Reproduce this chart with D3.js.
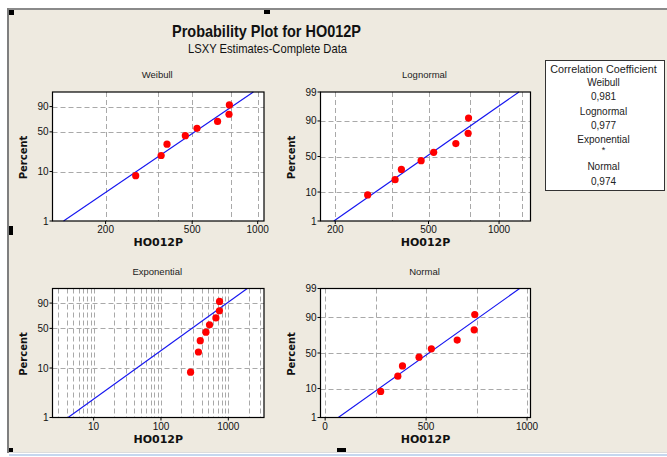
<!DOCTYPE html>
<html>
<head>
<meta charset="utf-8">
<script src="https://cdn.jsdelivr.net/npm/d3@7"></script>
<style>
  body { margin: 0; background: #fff; }
  svg { display: block; font-family: "Liberation Sans", Arial, sans-serif; }
  .grid { stroke: #a9a9a9; stroke-width: 1; stroke-dasharray: 5,3; fill: none; }
  .tick { font-size: 10px; fill: #111; }
  .bold { font-family: "DejaVu Sans", Verdana, sans-serif; font-weight: bold; fill: #111; }
</style>
</head>
<body>
<script>
// sample values (HO012P) and median-rank percents
var values = [275, 360, 383, 465, 526, 654, 738, 741];
var percents = [8.3, 20.2, 32.1, 44.0, 56.0, 67.9, 79.8, 91.7];

// LSXY fitted parameters
var weibullFit = { shape: 3.05, scale: 579 };
var lognormalFit = { loc: 6.194, scale: 0.391 };
var exponentialFit = { mean: 415 };
var normalFit = { mean: 514, sd: 193 };

var corrNames = ["Weibull", "Lognormal", "Exponential", "Normal"];
var corrValues = ["0,981", "0,977", "*", "0,974"];

var W = 667, H = 457;

// inverse normal cdf (Acklam)
function qnorm(p) {
  var a = [-3.969683028665376e+01, 2.209460984245205e+02, -2.759285104469687e+02, 1.383577518672690e+02, -3.066479806614716e+01, 2.506628277459239e+00];
  var b = [-5.447609879822406e+01, 1.615858368580409e+02, -1.556989798598866e+02, 6.680131188771972e+01, -1.328068155288572e+01];
  var c = [-7.784894002430293e-03, -3.223964580411365e-01, -2.400758277161838e+00, -2.549732539343734e+00, 4.374664141464968e+00, 2.938163982698783e+00];
  var d = [7.784695709041462e-03, 3.224671290700398e-01, 2.445134137142996e+00, 3.754408661907416e+00];
  var pl = 0.02425, q, r;
  if (p < pl) {
    q = Math.sqrt(-2 * Math.log(p));
    return (((((c[0]*q+c[1])*q+c[2])*q+c[3])*q+c[4])*q+c[5]) / ((((d[0]*q+d[1])*q+d[2])*q+d[3])*q+1);
  } else if (p <= 1 - pl) {
    q = p - 0.5; r = q * q;
    return (((((a[0]*r+a[1])*r+a[2])*r+a[3])*r+a[4])*r+a[5])*q / (((((b[0]*r+b[1])*r+b[2])*r+b[3])*r+b[4])*r+1);
  }
  q = Math.sqrt(-2 * Math.log(1 - p));
  return -(((((c[0]*q+c[1])*q+c[2])*q+c[3])*q+c[4])*q+c[5]) / ((((d[0]*q+d[1])*q+d[2])*q+d[3])*q+1);
}
function weibT(pct) { return Math.log(-Math.log(1 - pct / 100)); }
function normT(pct) { return qnorm(pct / 100); }

var expGrid = [];
[1, 10, 100, 1000].forEach(function(dec) {
  for (var k = 1; k <= 9; k++) { if (k * dec >= 3 && k * dec <= 3000) expGrid.push(k * dec); }
});

var panels = [
  { title: "Weibull", x0: 52.5, y0: 92, w: 211.5, h: 129, tr: weibT,
    x: d3.scaleLog().domain([114, 1069]), xTicks: [200, 500, 1000], xGrid: [200, 350, 500, 750, 1000],
    yTicks: [1, 10, 50, 90],
    q: function(p) { return weibullFit.scale * Math.pow(-Math.log(1 - p / 100), 1 / weibullFit.shape); } },
  { title: "Lognormal", x0: 320.5, y0: 92, w: 210, h: 129, tr: normT,
    x: d3.scaleLog().domain([173, 1362]), xTicks: [200, 500, 1000], xGrid: [200, 350, 500, 750, 1000, 1250],
    yTicks: [1, 10, 50, 90, 99],
    q: function(p) { return Math.exp(lognormalFit.loc + lognormalFit.scale * qnorm(p / 100)); } },
  { title: "Exponential", x0: 52.5, y0: 288.5, w: 211.5, h: 129, tr: weibT,
    x: d3.scaleLog().domain([2.45, 3388]), xTicks: [10, 100, 1000], xGrid: expGrid,
    yTicks: [1, 10, 50, 90],
    q: function(p) { return -exponentialFit.mean * Math.log(1 - p / 100); } },
  { title: "Normal", x0: 320.5, y0: 288.5, w: 210, h: 129, tr: normT,
    x: d3.scaleLinear().domain([-23, 1017]), xTicks: [0, 500, 1000], xGrid: [0, 250, 500, 750, 1000],
    yTicks: [1, 10, 50, 90, 99],
    q: function(p) { return normalFit.mean + normalFit.sd * qnorm(p / 100); } }
];
var yGrid = [10, 50, 90];

var svg = d3.select("body").append("svg").attr("width", W).attr("height", H);

// window frame
svg.append("rect").attr("x", 9).attr("y", 10).attr("width", W).attr("height", 442).attr("fill", "#eeeae0");
svg.append("line").attr("x1", 8).attr("x2", W).attr("y1", 9).attr("y2", 9).attr("stroke", "#8a8a8a").attr("stroke-width", 2);
svg.append("line").attr("x1", 8).attr("x2", 8).attr("y1", 8).attr("y2", 453).attr("stroke", "#7f7f7f").attr("stroke-width", 2);
svg.append("line").attr("x1", 9).attr("x2", W).attr("y1", 452.5).attr("y2", 452.5).attr("stroke", "#dcdcdc");
svg.append("rect").attr("x", 9).attr("y", 454).attr("width", W).attr("height", 2).attr("fill", "#c5d7ee");

// titles
svg.append("text").attr("x", 266.5).attr("y", 37).attr("text-anchor", "middle")
  .attr("font-size", 17).attr("font-weight", "bold").attr("fill", "#111")
  .attr("textLength", 189).attr("lengthAdjust", "spacingAndGlyphs")
  .text("Probability Plot for HO012P");
svg.append("text").attr("x", 267.5).attr("y", 53).attr("text-anchor", "middle")
  .attr("font-size", 13.5).attr("fill", "#111")
  .attr("textLength", 159).attr("lengthAdjust", "spacingAndGlyphs")
  .text("LSXY Estimates-Complete Data");

panels.forEach(function(pn) {
  var g = svg.append("g");
  var xs = pn.x.copy().range([pn.x0, pn.x0 + pn.w]);
  var ys = d3.scaleLinear().domain([pn.tr(1), pn.tr(99)]).range([pn.y0 + pn.h, pn.y0]);

  g.append("rect").attr("x", pn.x0).attr("y", pn.y0).attr("width", pn.w).attr("height", pn.h).attr("fill", "#fff");

  g.selectAll(".gx").data(pn.xGrid).enter().append("line").attr("class", "grid")
    .attr("x1", function(d) { return Math.round(xs(d)) + 0.5; })
    .attr("x2", function(d) { return Math.round(xs(d)) + 0.5; })
    .attr("y1", pn.y0).attr("y2", pn.y0 + pn.h);
  g.selectAll(".gy").data(yGrid).enter().append("line").attr("class", "grid")
    .attr("x1", pn.x0).attr("x2", pn.x0 + pn.w)
    .attr("y1", function(d) { return Math.round(ys(pn.tr(d))) + 0.5; })
    .attr("y2", function(d) { return Math.round(ys(pn.tr(d))) + 0.5; });

  // fitted line from 1% to 99%
  g.append("line")
    .attr("x1", xs(pn.q(1))).attr("y1", ys(pn.tr(1)))
    .attr("x2", xs(pn.q(99))).attr("y2", ys(pn.tr(99)))
    .attr("stroke", "#1515f0").attr("stroke-width", 1.1);

  g.selectAll("circle").data(values).enter().append("circle")
    .attr("cx", function(d) { return xs(d); })
    .attr("cy", function(d, i) { return ys(pn.tr(percents[i])); })
    .attr("r", 3.6).attr("fill", "#ff0000");

  g.append("rect").attr("x", pn.x0).attr("y", pn.y0).attr("width", pn.w).attr("height", pn.h)
    .attr("fill", "none").attr("stroke", "#000").attr("stroke-width", 1.2);

  // y ticks
  pn.yTicks.forEach(function(t) {
    var y = ys(pn.tr(t));
    g.append("line").attr("x1", pn.x0 - 3).attr("x2", pn.x0).attr("y1", y).attr("y2", y).attr("stroke", "#000");
    g.append("text").attr("class", "tick").attr("x", pn.x0 - 4).attr("y", y).attr("dy", "0.35em")
      .attr("text-anchor", "end").text(t);
  });
  // x ticks
  pn.xTicks.forEach(function(t) {
    var x = xs(t);
    g.append("line").attr("x1", x).attr("x2", x).attr("y1", pn.y0 + pn.h).attr("y2", pn.y0 + pn.h + 3).attr("stroke", "#000");
    g.append("text").attr("class", "tick").attr("x", x).attr("y", pn.y0 + pn.h + 12)
      .attr("text-anchor", "middle").text(t);
  });

  g.append("text").attr("x", pn.x0 + pn.w / 2 - 1).attr("y", pn.y0 - 14)
    .attr("text-anchor", "middle").attr("font-size", 9.5).attr("fill", "#222").text(pn.title);
  g.append("text").attr("class", "bold").attr("x", pn.x0 + pn.w / 2).attr("y", pn.y0 + pn.h + 25)
    .attr("text-anchor", "middle").attr("font-size", 11).text("HO012P");
  g.append("text").attr("class", "bold")
    .attr("transform", "translate(" + (pn.x0 - 26) + "," + (pn.y0 + pn.h / 2 + 1) + ") rotate(-90)")
    .attr("text-anchor", "middle").attr("font-size", 10).text("Percent");
});

// correlation box
var lg = svg.append("g");
lg.append("rect").attr("x", 545.5).attr("y", 60.5).attr("width", 119).attr("height", 130)
  .attr("fill", "#fff").attr("stroke", "#333");
var legendLines = ["Correlation Coefficient"];
corrNames.forEach(function(n, i) { legendLines.push(n); legendLines.push(corrValues[i]); });
var legendY = [69, 82.3, 96.7, 111, 125, 139.3, 149.5, 166.7, 181];
lg.selectAll("text").data(legendLines).enter().append("text")
  .attr("x", 603.5).attr("y", function(d, i) { return legendY[i]; }).attr("dy", "0.35em")
  .attr("text-anchor", "middle")
  .attr("font-size", function(d, i) { return d === "*" ? 9 : (i === 0 ? 10.8 : 10); })
  .attr("fill", "#222")
  .text(function(d) { return d; });

// selection handles
var handles = [[9, 10, 5, 5], [264, 10, 6, 4], [9, 226, 4, 9], [9, 448, 4, 4], [337, 448, 9, 4]];
svg.selectAll(".hd").data(handles).enter().append("rect")
  .attr("x", function(d) { return d[0]; }).attr("y", function(d) { return d[1]; })
  .attr("width", function(d) { return d[2]; }).attr("height", function(d) { return d[3]; })
  .attr("fill", "#000");
</script>
</body>
</html>
